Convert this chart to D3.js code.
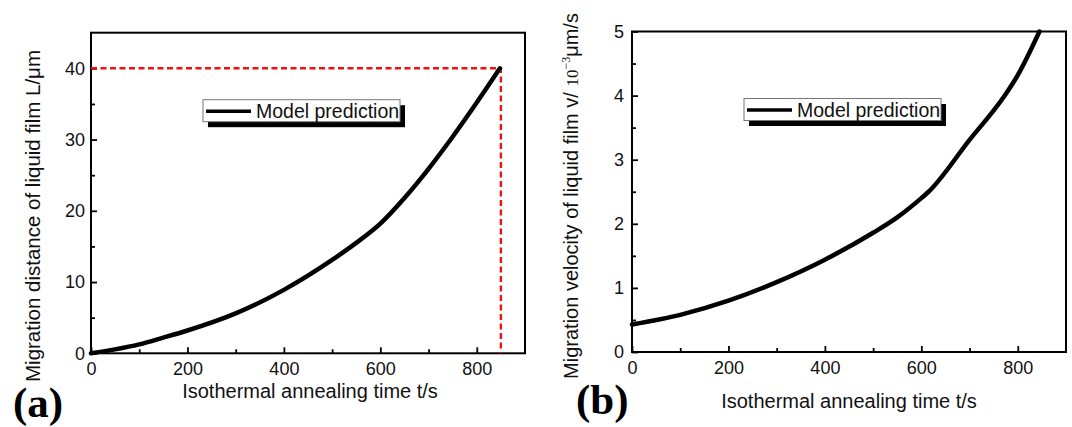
<!DOCTYPE html>
<html>
<head>
<meta charset="utf-8">
<script src="https://cdn.jsdelivr.net/npm/d3@7"></script>
<style>
  html, body { margin: 0; padding: 0; background: #fff; }
  svg { display: block; font-family: "Liberation Sans", Arial, sans-serif; }
</style>
</head>
<body>
<svg id="chart" width="1072" height="427"></svg>
<script>
// datos
const timeA = [0, 50, 100, 150, 200, 300, 400, 500, 550, 600, 650, 700, 750, 800, 848];
const distA = [0, 0.55, 1.25, 2.2, 3.2, 5.6, 8.9, 13.1, 15.5, 18.2, 21.8, 25.9, 30.4, 35.2, 40.0];

const timeB = [0, 100, 200, 300, 400, 500, 550, 600, 615, 700, 770, 800, 845];
const velB = [0.43, 0.58, 0.8, 1.09, 1.44, 1.86, 2.1, 2.4, 2.5, 3.31, 3.97, 4.32, 5.0];

const xTicks = [0, 200, 400, 600, 800];
const xMinor = [100, 300, 500, 700];
const yTicksA = [0, 10, 20, 30, 40];
const yMinorA = [5, 15, 25, 35];
const yTicksB = [0, 1, 2, 3, 4, 5];
const yMinorB = [0.5, 1.5, 2.5, 3.5, 4.5];

// linea de referencia roja (t = 850 s, L = 40 um)
const refT = [0, 850, 850];
const refL = [40, 40, 0];

const svg = d3.select("#chart");
const fmt = d3.format("~g");

function drawPanel(cfg) {
  const g = svg.append("g");
  const x = d3.scaleLinear().domain([0, 900]).range([cfg.left, cfg.right]);
  const y = d3.scaleLinear().domain([0, cfg.ymax]).range([cfg.bottom, cfg.top]);

  // ejes: ticks hacia adentro
  g.append("g")
      .attr("transform", `translate(0,${cfg.bottom})`)
      .call(d3.axisBottom(x).tickValues(xTicks).tickSize(-6).tickPadding(9).tickFormat(fmt));
  g.append("g")
      .attr("transform", `translate(0,${cfg.bottom})`)
      .call(d3.axisBottom(x).tickValues(xMinor).tickSize(-4).tickFormat(""));
  g.append("g")
      .attr("transform", `translate(${cfg.left},0)`)
      .call(d3.axisLeft(y).tickValues(cfg.yTicks).tickSize(-6).tickPadding(cfg.ypad).tickFormat(fmt));
  g.append("g")
      .attr("transform", `translate(${cfg.left},0)`)
      .call(d3.axisLeft(y).tickValues(cfg.yMinor).tickSize(-4).tickFormat(""));

  g.selectAll(".domain").remove();
  g.selectAll(".tick line").attr("stroke", "#000").attr("stroke-width", 1.8);
  g.selectAll(".tick text")
      .attr("font-family", "Liberation Sans, Arial, sans-serif")
      .attr("font-size", 18)
      .attr("fill", "#111");

  // marco
  g.append("rect")
      .attr("x", cfg.left).attr("y", cfg.top)
      .attr("width", cfg.right - cfg.left).attr("height", cfg.bottom - cfg.top)
      .attr("fill", "none").attr("stroke", "#000").attr("stroke-width", 2);

  if (cfg.ref) {
    g.append("path")
        .datum(refT.map((t, i) => [t, refL[i]]))
        .attr("fill", "none")
        .attr("stroke", "#f01010")
        .attr("stroke-width", 2.4)
        .attr("stroke-dasharray", "6,3.5")
        .attr("d", d3.line().x(d => x(d[0])).y(d => y(d[1])));
  }

  // curva
  g.append("path")
      .datum(cfg.t.map((t, i) => [t, cfg.v[i]]))
      .attr("fill", "none")
      .attr("stroke", "#000")
      .attr("stroke-width", 4.5)
      .attr("stroke-linecap", "round")
      .attr("d", d3.line().curve(d3.curveMonotoneX).x(d => x(d[0])).y(d => y(d[1])));

  // leyenda con sombra
  const lx = cfg.left + 112, ly = cfg.top + 67;
  g.append("rect").attr("x", lx + 5).attr("y", ly + 5.5).attr("width", 197).attr("height", 22).attr("fill", "#000");
  g.append("rect").attr("x", lx).attr("y", ly).attr("width", 197).attr("height", 22)
      .attr("fill", "#fff").attr("stroke", "#777").attr("stroke-width", 1);
  g.append("line").attr("x1", lx + 3).attr("x2", lx + 48).attr("y1", ly + 11.5).attr("y2", ly + 11.5)
      .attr("stroke", "#000").attr("stroke-width", 3.5);
  g.append("text").attr("x", lx + 53).attr("y", ly + 18.7)
      .attr("font-size", 19.5).attr("fill", "#111").text("Model prediction");

  // titulo eje x
  g.append("text")
      .attr("x", cfg.xtx).attr("y", cfg.xty)
      .attr("text-anchor", "middle").attr("font-size", 20).attr("fill", "#111")
      .text("Isothermal annealing time t/s");

  // etiqueta del panel
  g.append("text")
      .attr("x", cfg.lbx).attr("y", cfg.lby)
      .attr("font-family", "Liberation Serif, Times New Roman, serif")
      .attr("font-weight", "bold").attr("font-size", 43).attr("fill", "#000")
      .text(cfg.label);

  return g;
}

const gA = drawPanel({
  left: 91, right: 525, top: 32.7, bottom: 353.3, ymax: 45,
  yTicks: yTicksA, yMinor: yMinorA, ypad: 6,
  t: timeA, v: distA, ref: true,
  xtx: 310, xty: 398, lbx: 13, lby: 417, label: "(a)"
});

gA.append("text")
    .attr("transform", "translate(40,216) rotate(-90)")
    .attr("text-anchor", "middle").attr("font-size", 20.5).attr("fill", "#111")
    .text("Migration distance of liquid film L/\u03bcm");

const gB = drawPanel({
  left: 632, right: 1066, top: 31.5, bottom: 352, ymax: 5,
  yTicks: yTicksB, yMinor: yMinorB, ypad: 8,
  t: timeB, v: velB, ref: false,
  xtx: 849, xty: 408, lbx: 576, lby: 414, label: "(b)"
});

const yb = gB.append("text")
    .attr("transform", "translate(578,196) rotate(-90)")
    .attr("text-anchor", "middle").attr("font-size", 20).attr("fill", "#111");
yb.append("tspan").text("Migration velocity of liquid film v/ ");
yb.append("tspan").attr("font-family", "Liberation Serif, Times New Roman, serif").attr("font-size", 17).text("10");
yb.append("tspan").attr("font-family", "Liberation Serif, Times New Roman, serif").attr("font-size", 12).attr("dy", -8).text("\u22123");
yb.append("tspan").attr("dy", 8).text("\u03bcm/s");
</script>
</body>
</html>
